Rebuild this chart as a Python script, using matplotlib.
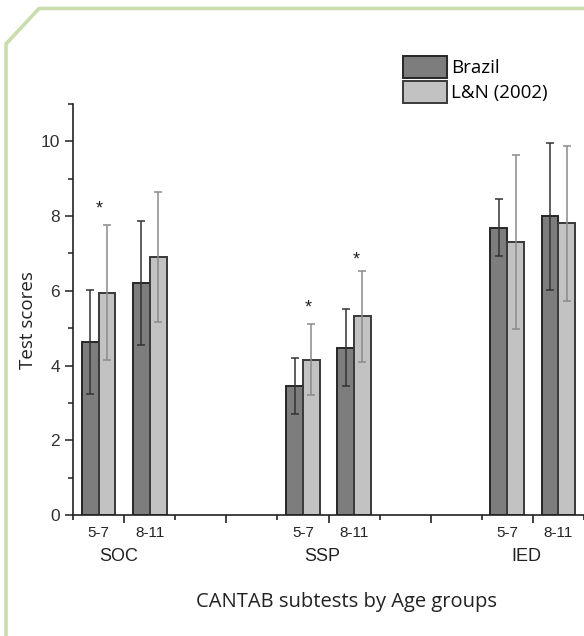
import matplotlib
matplotlib.use("Agg")
import matplotlib.pyplot as plt
import numpy as np
from matplotlib.lines import Line2D

# data
groups = ["SOC", "SSP", "IED"]
group_pos = [0.9, 4.88, 8.88]
ages = ["5-7", "8-11"]
slots = [0.5, 1.5, 4.5, 5.5, 8.5, 9.5]   # SOC 5-7, SOC 8-11, SSP 5-7, ...
brazil = [4.63, 6.21, 3.45, 4.48, 7.69, 7.99]
brazil_err = [1.40, 1.66, 0.75, 1.03, 0.77, 1.96]
ln2002 = [5.95, 6.90, 4.16, 5.32, 7.30, 7.81]
ln2002_err = [1.80, 1.74, 0.96, 1.22, 2.33, 2.07]
sig_x = [0.52, 4.6, 5.55]
sig_y = [7.95, 5.3, 6.6]

W, H = 584, 636
fig = plt.figure(figsize=(W / 100, H / 100), dpi=100)
ax = fig.add_axes([73 / W, 1 - 515 / H, (W - 73) / W, (515 - 104) / H])

bw = 0.33
x = np.array(slots)
b1 = ax.bar(x - bw / 2, brazil, bw, color="#7d7d7d", edgecolor="#262626",
            linewidth=1.4, label="Brazil", zorder=2)
b2 = ax.bar(x + bw / 2, ln2002, bw, color="#c2c2c2", edgecolor="#3a3a3a",
            linewidth=1.4, label="L&N (2002)", zorder=2)
ax.errorbar(x - bw / 2, brazil, yerr=brazil_err, fmt="none", ecolor="#333333",
            elinewidth=1.1, capsize=3, capthick=1.1, zorder=3)
ax.errorbar(x + bw / 2, ln2002, yerr=ln2002_err, fmt="none", ecolor="#8a8a8a",
            elinewidth=1.1, capsize=3, capthick=1.1, zorder=3)
for sx, sy in zip(sig_x, sig_y):
    ax.text(sx, sy, "*", ha="center", va="bottom", fontsize=13,
            family="Liberation Sans", color="#222222")

ax.set_xlim(0, 10)
ax.set_ylim(0, 11)
ax.spines["top"].set_visible(False)
ax.spines["right"].set_visible(False)
for s in ["left", "bottom"]:
    ax.spines[s].set_color("#222222")
    ax.spines[s].set_linewidth(1.2)

ax.set_yticks(np.arange(0, 11, 2))
ax.set_yticks(np.arange(1, 12, 2), minor=True)
ax.set_yticklabels([str(v) for v in range(0, 11, 2)], family="Liberation Sans",
                   fontsize=12.5, color="#333333")
ax.tick_params(axis="y", which="major", length=6, width=1.1, color="#222222", pad=3.5)
ax.tick_params(axis="y", which="minor", length=3.5, width=1.1, color="#222222")

ax.set_xticks([1, 3, 5, 7, 9])
ax.set_xticks([0, 2, 4, 6, 8, 10], minor=True)
ax.set_xticklabels([])
ax.tick_params(axis="x", which="major", length=6, width=1.2, color="#222222")
ax.tick_params(axis="x", which="minor", length=3.5, width=1.2, color="#222222")

sec1 = ax.secondary_xaxis("bottom")
sec1.set_xticks(slots, labels=ages * 3, family="Liberation Sans", fontsize=11,
                color="#222222")
sec1.tick_params(length=0, pad=8)
sec1.spines["bottom"].set_visible(False)

sec2 = ax.secondary_xaxis("bottom")
sec2.set_xticks(group_pos, labels=groups, family="Liberation Sans", fontsize=13,
                color="#222222")
sec2.tick_params(length=0, pad=24)
sec2.spines["bottom"].set_visible(False)

fig.text(28 / W, 1 - 320 / H, "Test scores", rotation=90, ha="center", va="center",
         family="Open Sans", fontsize=13.5, color="#222222")
fig.text(346 / W, 1 - 602 / H, "CANTAB subtests by Age groups", ha="center",
         va="center", family="Open Sans", fontsize=14.5, color="#222222")

fig.legend(handles=[b1, b2], loc="upper left", bbox_to_anchor=(403 / W, 1 - 56 / H),
           frameon=False, prop={"family": "Open Sans", "size": 13.5},
           handlelength=2.35, handleheight=1.4, handletextpad=0.2,
           labelspacing=0.2, borderpad=0, borderaxespad=0)

# green card border with clipped top-left corner
gx = [6 / W, 6 / W, 39 / W, 1.0]
gy = [0.0, 1 - 44 / H, 1 - 8.5 / H, 1 - 8.5 / H]
fig.add_artist(Line2D(gx, gy, color="#c9ddae", linewidth=2.6,
                      transform=fig.transFigure))

fig.savefig("out.png", dpi=100)
